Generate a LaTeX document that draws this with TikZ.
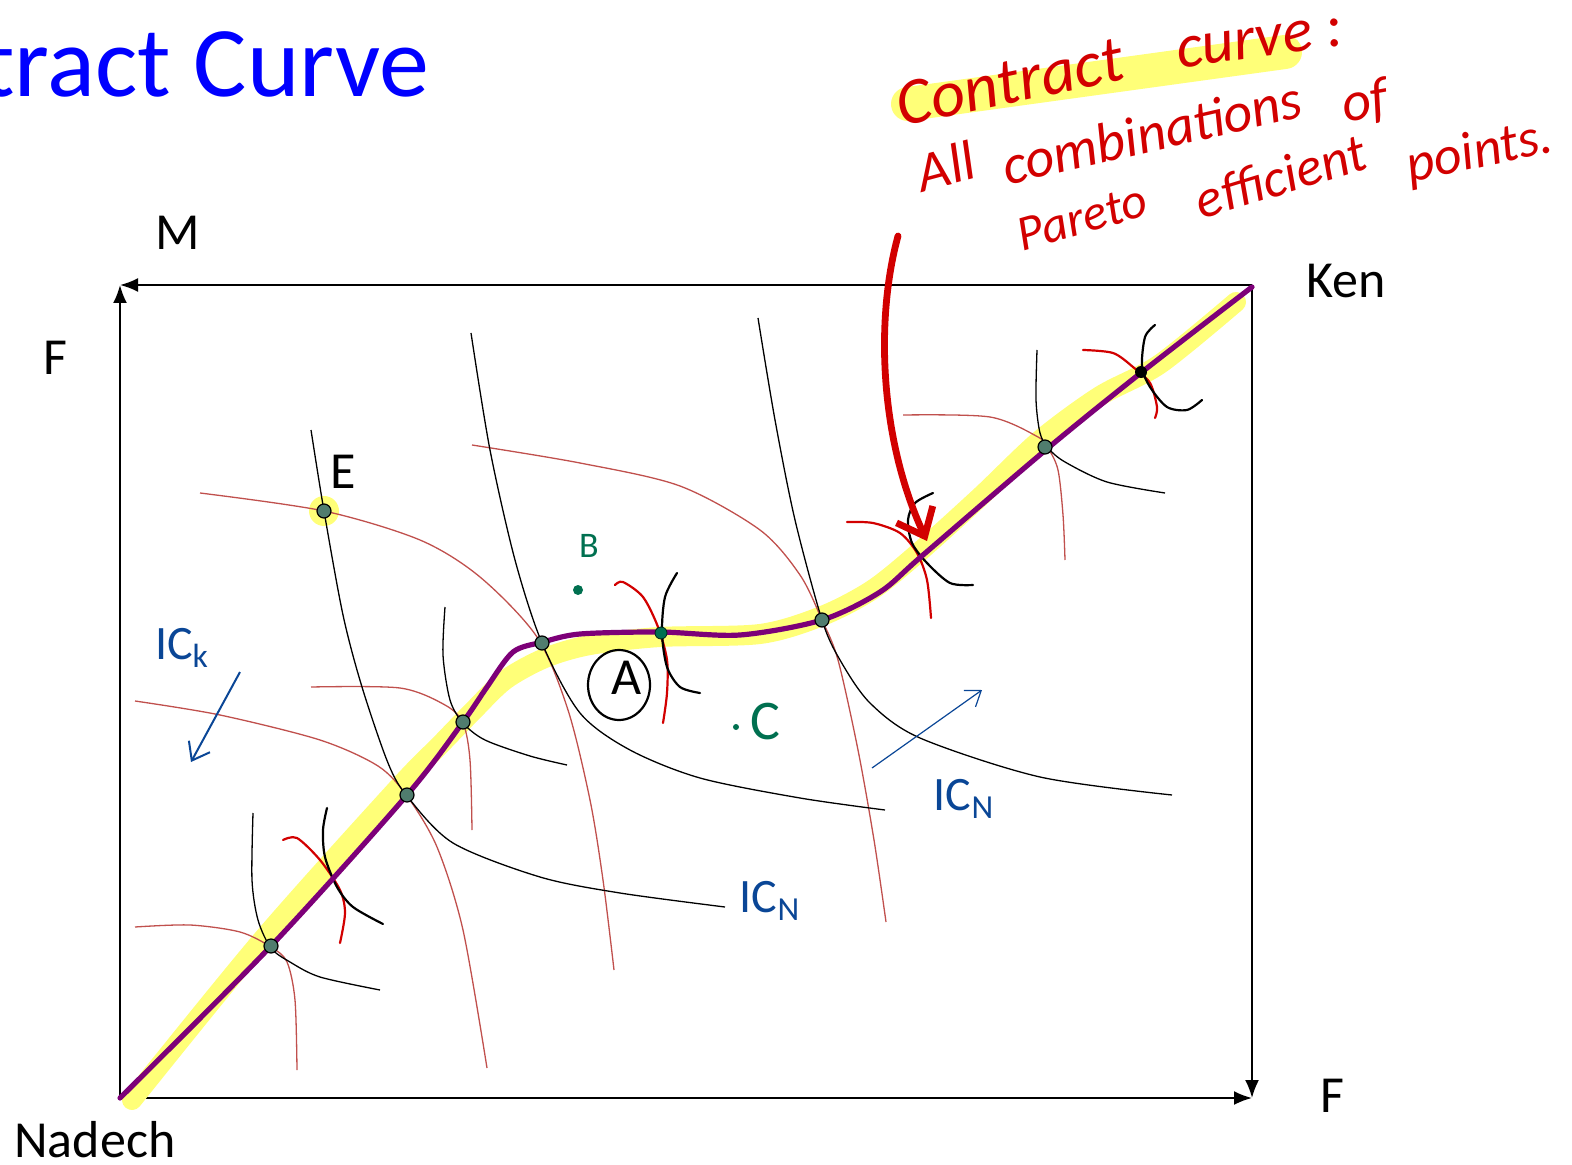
\documentclass[tikz,border=0pt]{standalone}
\usepackage{fontspec}
\setmainfont{Carlito}
\usetikzlibrary{arrows.meta,shapes.geometric}
\definecolor{titleblue}{RGB}{0,0,255}
\definecolor{ccpurple}{RGB}{125,0,120}
\definecolor{hilite}{RGB}{255,255,120}
\definecolor{icred}{RGB}{192,80,77}
\definecolor{penred}{RGB}{210,0,0}
\definecolor{pengreen}{RGB}{0,112,80}
\definecolor{penblue}{RGB}{10,70,150}
\definecolor{dotfill}{RGB}{80,125,110}

\begin{document}
\begin{tikzpicture}[x=0.5pt,y=-0.5pt,
  axis/.style={line width=1pt,-{Latex[length=9pt,width=7pt]}},
  icN/.style={line width=0.65pt,black},
  icK/.style={line width=0.65pt,icred},
  penN/.style={line width=1.1pt,black,line cap=round},
  penK/.style={line width=1.1pt,penred,line cap=round},
  optpt/.style={circle,draw=black,line width=0.6pt,fill=dotfill,minimum size=7pt,inner sep=0pt},
  lbl/.style={inner sep=0pt,font=\fontsize{26}{30}\selectfont},
  hand/.style={inner sep=0pt,font=\fontsize{17}{20}\selectfont\itshape},
  note/.style={inner sep=0pt,text=penred,font=\fontsize{28}{30}\selectfont\itshape}]
\useasboundingbox (0,0) rectangle (1572,1165);

\node[anchor=base east,inner sep=0pt,text=titleblue,font=\fontsize{50}{60}\selectfont] (title) at (430,97) {Contract Curve};

% box
\coordinate (N) at (120,1098);
\coordinate (K) at (1252,285);
\draw[axis] (N) -- (N |- K);
\draw[axis] (N) -- (N -| K);
\draw[axis] (K) -- (N |- K);
\draw[axis] (K) -- (N -| K);

\node[lbl,anchor=base] (lblM) at (178,250) {M};
\node[lbl,anchor=base] (lblFl) at (55,375) {F};
\node[lbl,anchor=base west] (lblKen) at (1306,298) {Ken};
\node[lbl,anchor=base] (lblFr) at (1332,1112) {F};
\node[lbl,anchor=base west] (lblNad) at (14,1157) {Nadech};
\node[lbl,anchor=base] (lblE) at (343,488) {E};

% contract curve
\draw[hilite,line width=10pt,line cap=round] plot[smooth,tension=0.5] coordinates {(132,1100) (263,939) (398,788) (440,745) (472,712) (505,680) (545,658) (590,645) (660,637) (760,634) (822,616) (872,590) (918,553) (980,497) (1040,440) (1100,396) (1160,364) (1236,302)};
\fill[hilite] (324,511) circle (7.5pt);

% Ken's curves
\draw[icK] plot[smooth] coordinates {(200,493) (324,511) (420,540) (480,577) (537,637) (568,710) (590,800) (603,880) (614,970)};
\draw[icK] plot[smooth] coordinates {(472,445) (580,463) (680,486) (760,530) (800,575) (822,620) (838,660) (858,750) (874,840) (886,922)};
\draw[icK] plot[smooth] coordinates {(311,687) (400,688) (445,705) (463,723) (470,760) (472,830)};
\draw[icK] plot[smooth] coordinates {(135,701) (220,715) (320,740) (378,766) (407,796) (437,847) (463,930) (487,1068)};
\draw[icK] plot[smooth] coordinates {(135,927) (190,925) (240,932) (271,947) (287,962) (295,1000) (297,1070)};
\draw[icK] plot[smooth] coordinates {(903,415) (990,417) (1038,437) (1048,448) (1058,470) (1063,515) (1065,560)};

% Nadech's curves
\draw[icN] plot[smooth] coordinates {(311,430) (324,511) (343,615) (362,687) (388,763) (407,796) (453,843) (540,877) (620,893) (725,907)};
\draw[icN] plot[smooth] coordinates {(471,333) (490,450) (515,560) (542,643) (580,713) (630,750) (700,778) (800,798) (885,810)};
\draw[icN] plot[smooth] coordinates {(758,318) (775,420) (795,520) (822,620) (840,660) (870,703) (920,738) (1040,777) (1172,795)};
\draw[icN] plot[smooth] coordinates {(445,607) (443,655) (450,700) (463,723) (485,740) (530,756) (567,765)};
\draw[icN] plot[smooth] coordinates {(253,813) (252,880) (258,920) (271,948) (290,962) (320,977) (380,990)};
\draw[icN] plot[smooth] coordinates {(1037,350) (1036,400) (1040,433) (1048,448) (1065,462) (1107,482) (1165,493)};

% marks
\draw[penK] plot[smooth] coordinates {(283,840) (297,838) (320,860) (340,890) (345,913) (340,943)};
\draw[penN] plot[smooth] coordinates {(327,808) (323,830) (325,857) (337,887) (353,907) (383,924)};
\draw[penK] plot[smooth] coordinates {(615,585) (623,582) (643,597) (658,627) (667,660) (667,693) (663,723)};
\draw[penN] plot[smooth] coordinates {(677,573) (665,597) (662,633) (667,667) (680,687) (700,693)};
\draw[penK] plot[smooth] coordinates {(847,522) (873,523) (900,533) (917,553) (927,580) (931,618)};
\draw[penN] plot[smooth] coordinates {(933,493) (915,503) (908,520) (912,543) (927,563) (950,583) (973,585)};
\draw[penK] plot[smooth] coordinates {(1083,350) (1113,353) (1133,367) (1150,383) (1157,407) (1155,418)};
\draw[penN] plot[smooth] coordinates {(1155,325) (1145,337) (1142,367) (1150,387) (1167,407) (1187,410) (1202,400)};

\draw[ccpurple,line width=2.6pt,line cap=round] plot[smooth,tension=0.5] coordinates {(120,1098) (271,946) (407,795) (463,722) (487,687) (513,652) (543,642) (580,634) (660,632) (740,635) (822,620) (880,592) (923,555) (1048,448) (1142,372) (1252,287)};

% points
\node[optpt] (ptE) at (324,511) {};
\node[optpt] (p1) at (271,946) {};
\node[optpt] (p2) at (407,795) {};
\node[optpt] (p3) at (463,722) {};
\node[optpt] (p4) at (542,643) {};
\node[optpt] (p5) at (822,620) {};
\node[optpt] (p6) at (1045,447) {};
\node[circle,fill=pengreen,draw=black!70!pengreen,minimum size=6pt,inner sep=0pt] (pA) at (661,633) {};
\node[circle,fill=black,minimum size=6pt,inner sep=0pt] (p7) at (1141,372) {};

% bundles
\node[circle,fill=pengreen,minimum size=5pt,inner sep=0pt] (ptB) at (578,590) {};
\node[hand,text=pengreen,font=\fontsize{18}{20}\selectfont] (lblB) at (589,546) {B};
\node[circle,fill=pengreen,minimum size=3pt,inner sep=0pt] (ptC) at (736,727) {};
\node[hand,text=pengreen,font=\fontsize{28}{30}\selectfont] (lblC) at (765,722) {C};
\node[draw,ellipse,line width=1.1pt,minimum width=31pt,minimum height=35pt,inner sep=0pt] (circA) at (619,685) {};
\node[hand,font=\fontsize{26}{30}\selectfont] (lblA) at (627,678) {A};

% IC labels
\node[hand,text=penblue,font=\fontsize{24}{28}\selectfont] (icKlbl) at (182,648) {IC\textsubscript{k}};
\node[hand,text=penblue,font=\fontsize{24}{28}\selectfont] (icNlbl1) at (964,799) {IC\textsubscript{N}};
\node[hand,text=penblue,font=\fontsize{24}{28}\selectfont] (icNlbl2) at (770,901) {IC\textsubscript{N}};
\coordinate (kTail) at (240,672);
\coordinate (kHead) at (191,762);
\coordinate (nTail) at (872,768);
\coordinate (nHead) at (982,690);
\draw[penblue,line width=1pt,-{Straight Barb[length=8pt,width=12pt]}] (kTail) -- (kHead);
\draw[penblue,line width=0.6pt,-{Straight Barb[length=7pt,width=10pt]}] (nTail) -- (nHead);

% note
\draw[hilite,line width=17pt,line cap=round] (908,104) -- (1285,52);
\node[note,font=\fontsize{33}{36}\selectfont\itshape,rotate=12] (wContract) at (1010,82) {Contract};
\node[note,font=\fontsize{31}{36}\selectfont\itshape,rotate=8] (wCurve) at (1260,42) {curve :};
\node[note,rotate=15] (wAll) at (946,166) {All};
\node[note,rotate=13] (wComb) at (1152,132) {combinations};
\node[note,rotate=10] (wOf) at (1365,103) {of};
\node[note,font=\fontsize{25}{30}\selectfont\itshape,rotate=16] (wPareto) at (1082,218) {Pareto};
\node[note,font=\fontsize{27}{30}\selectfont\itshape,rotate=17] (wEff) at (1280,176) {efficient};
\node[note,font=\fontsize{27}{30}\selectfont\itshape,rotate=12] (wPoints) at (1480,153) {points.};
\coordinate (arrTail) at (898,236);
\coordinate (arrHead) at (927,541);
\draw[penred,line width=3.4pt,line cap=round,-{Straight Barb[length=12pt,width=20pt]}] (arrTail) .. controls (875,320) and (880,440) .. (arrHead);
\end{tikzpicture}
\end{document}
